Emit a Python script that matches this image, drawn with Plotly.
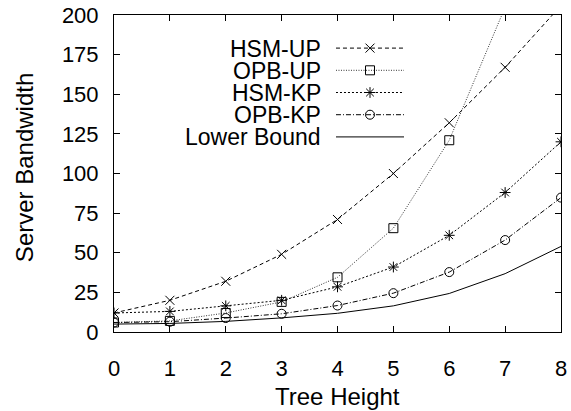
import plotly.graph_objects as go

tree_height = [0, 1, 2, 3, 4, 5, 6, 7, 8]

hsm_up = [12, 20, 32, 49, 71, 100, 132, 167, 206]
opb_up = [6, 7, 12, 19, 34.5, 65.5, 121, 205, 360]
hsm_kp = [12, 13, 16.5, 20, 28.5, 41, 61, 88, 120]
opb_kp = [6, 6.5, 8.8, 11.5, 16.7, 24.5, 37.8, 58, 84.8]
lower_bound = [5, 5.4, 6.7, 8.9, 11.8, 16.5, 24.3, 36.8, 54]

series_names = ["HSM-UP", "OPB-UP", "HSM-KP", "OPB-KP", "Lower Bound"]
series_values = [hsm_up, opb_up, hsm_kp, opb_kp, lower_bound]

x_ticks = [0, 1, 2, 3, 4, 5, 6, 7, 8]
y_ticks = [0, 25, 50, 75, 100, 125, 150, 175, 200]

styles = [
    dict(dash="4px,3px", symbol="x-thin-open", color="#000000"),
    dict(dash="1px,1.5px", symbol="square-open", color="#333333"),
    dict(dash="2px,2px", symbol="asterisk-open", color="#000000"),
    dict(dash="5px,2px,1px,2px", symbol="circle-open", color="#000000"),
    dict(dash="solid", symbol=None, color="#000000"),
]

FONT = "Liberation Sans, Arial, Helvetica, sans-serif"

fig = go.Figure()

for name, vals, st in zip(series_names, series_values, styles):
    mode = "lines+markers" if st["symbol"] else "lines"
    marker = dict(symbol=st["symbol"], size=9, color="#000000",
                  line=dict(width=1, color="#000000")) if st["symbol"] else None
    fig.add_trace(go.Scatter(
        x=tree_height, y=vals, mode=mode, name=name,
        line=dict(color=st["color"], width=1, dash=st["dash"]),
        marker=marker, showlegend=False, xaxis="x", yaxis="y",
    ))

# custom legend (text left, sample right), drawn on a hidden helper axis
for i, (name, st) in enumerate(zip(series_names, styles)):
    fig.add_trace(go.Scatter(
        x=[0, 1], y=[i, i], mode="lines",
        line=dict(color=st["color"], width=1, dash=st["dash"]),
        showlegend=False, xaxis="x2", yaxis="y2", hoverinfo="skip",
    ))
    if st["symbol"]:
        fig.add_trace(go.Scatter(
            x=[0.5], y=[i], mode="markers",
            marker=dict(symbol=st["symbol"], size=9, color="#000000",
                        line=dict(width=1, color="#000000")),
            showlegend=False, xaxis="x2", yaxis="y2", hoverinfo="skip",
        ))
    fig.add_annotation(
        x=0.4653, xref="paper", y=i, yref="y2",
        text=name, showarrow=False, xanchor="right", yanchor="middle",
        height=21, borderpad=0,
        font=dict(family=FONT, size=23, color="#000000"),
    )

fig.add_annotation(
    x=0.499, xref="paper", y=-0.205, yref="paper",
    text="Tree Height", showarrow=False, xanchor="center", yanchor="middle",
    font=dict(family=FONT, size=24, color="#000000"),
)
fig.add_annotation(
    x=-0.2013, xref="paper", y=0.517, yref="paper",
    text="Server Bandwidth", showarrow=False, xanchor="center", yanchor="middle",
    textangle=-90,
    font=dict(family=FONT, size=24, color="#000000"),
)

axis_common = dict(
    showline=True, linecolor="#000000", linewidth=1, mirror="allticks",
    ticks="inside", ticklen=6, tickcolor="#000000", tickwidth=1,
    showgrid=False, zeroline=False, automargin=False,
    tickfont=dict(family=FONT, size=22, color="#000000"),
)

fig.update_layout(
    width=571, height=411,
    margin=dict(l=114, r=10, t=15, b=79),
    paper_bgcolor="white", plot_bgcolor="white",
    xaxis=dict(range=[0, 8], tickvals=x_ticks, ticktext=[str(v) for v in x_ticks],
               ticklabelstandoff=17, **axis_common),
    yaxis=dict(range=[0, 200], tickvals=y_ticks, ticktext=[str(v) for v in y_ticks],
               ticklabelstandoff=10, **axis_common),
    xaxis2=dict(domain=[0.4966, 0.6488], range=[0, 1], visible=False, anchor="y2"),
    yaxis2=dict(domain=[0.5804, 0.9306], range=[4.5, -0.5], visible=False, anchor="x2"),
    showlegend=False,
)

fig.write_html(
    "out.html",
    config={"displayModeBar": False},
    post_script="document.body.style.margin='0';document.body.style.overflow='hidden';",
)
